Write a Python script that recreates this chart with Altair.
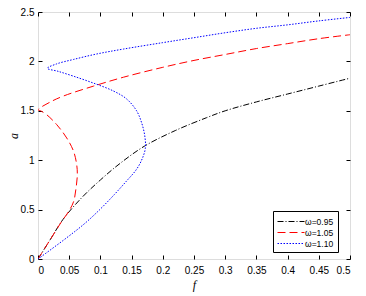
import altair as alt
import pandas as pd

series = ["ω=0.95", "ω=1.05", "ω=1.10"]
colors = ["#000000", "#ff0000", "#0000ff"]

f_095 = [0, 0.02, 0.04, 0.07, 0.1, 0.13, 0.17, 0.22, 0.27, 0.3, 0.35, 0.4, 0.45, 0.5]
a_095 = [0, 0.2, 0.4, 0.62, 0.8, 0.96, 1.14, 1.30, 1.43, 1.50, 1.59, 1.67, 1.75, 1.83]

f_105 = [0, 0.019, 0.038, 0.049, 0.057, 0.061, 0.063, 0.062, 0.057, 0.046, 0.030, 0.014, 0.004, 0,
         0.02, 0.041, 0.089, 0.137, 0.2, 0.25, 0.3, 0.35, 0.4, 0.45, 0.5]
a_105 = [0, 0.19, 0.38, 0.48, 0.58, 0.72, 0.85, 0.955, 1.09, 1.225, 1.36, 1.46, 1.50, 1.51,
         1.59, 1.65, 1.75, 1.84, 1.94, 2.01, 2.07, 2.13, 2.18, 2.23, 2.27]

f_110 = [0, 0.046, 0.075, 0.099, 0.122, 0.142, 0.157, 0.166, 0.172, 0.171, 0.166, 0.158,
         0.142, 0.121, 0.089, 0.057, 0.032, 0.015, 0.03, 0.057, 0.094, 0.137, 0.2, 0.25,
         0.3, 0.35, 0.4, 0.45, 0.5]
a_110 = [0, 0.215, 0.36, 0.5, 0.65, 0.79, 0.9, 1.0, 1.12, 1.25, 1.38, 1.5,
         1.62, 1.70, 1.78, 1.85, 1.90, 1.93, 1.975, 2.02, 2.075, 2.125, 2.19, 2.24,
         2.29, 2.335, 2.37, 2.41, 2.445]

x_ticks = [0, 0.05, 0.1, 0.15, 0.2, 0.25, 0.3, 0.35, 0.4, 0.45, 0.5]
y_ticks = [0, 0.5, 1, 1.5, 2, 2.5]

rows = []
for name, fs, avals in zip(series, [f_095, f_105, f_110], [a_095, a_105, a_110]):
    for i, (f, a) in enumerate(zip(fs, avals)):
        rows.append({"series": name, "f": f, "a": a, "i": i})
df = pd.DataFrame(rows)

W, H = 312, 247
xs = alt.Scale(domain=[0, 0.5], nice=False, zero=False)
ys = alt.Scale(domain=[0, 2.5], nice=False, zero=False)

leg = alt.Legend(
    title=None, orient="none", legendX=235, legendY=199,
    strokeColor="black", fillColor="white", padding=4, cornerRadius=0,
    symbolType="M-1,0L3.5,0", symbolSize=144,
    labelFont="Liberation Sans",
    labelFontSize=8.5, labelColor="black", rowPadding=0, labelOffset=15,
)

lab_expr = "format(datum.value, '~g')"

base = alt.Chart(df)

lines = base.mark_line(interpolate="catmull-rom", clip=True).encode(
    x=alt.X("f:Q", scale=xs, axis=alt.Axis(
        orient="bottom", values=x_ticks, ticks=False, domain=False, grid=False,
        labelExpr=lab_expr,
        labelPadding=6, labelFont="Liberation Sans", labelFontSize=10, labelColor="black",
        title="f", titleFont="Liberation Serif", titleFontStyle="italic", titleFontWeight="normal",
        titleFontSize=12, titleColor="black", titleBaseline="alphabetic", titleY=29)),
    y=alt.Y("a:Q", scale=ys, axis=alt.Axis(
        orient="left", values=y_ticks, ticks=False, domain=False, grid=False,
        labelExpr=lab_expr,
        labelPadding=4, labelFont="Liberation Sans", labelFontSize=10, labelColor="black",
        title="a", titleFont="Liberation Serif", titleFontStyle="italic", titleFontWeight="normal",
        titleFontSize=12, titleColor="black", titleBaseline="alphabetic",
        titleX=-21, titleY=H / 2)),
    color=alt.Color("series:N", scale=alt.Scale(domain=series, range=colors), legend=leg),
    strokeDash=alt.StrokeDash("series:N", scale=alt.Scale(
        domain=series, range=[[6, 2, 1, 2], [8, 4], [1.5, 1.5]]), legend=leg),
    strokeWidth=alt.StrokeWidth("series:N", scale=alt.Scale(
        domain=series, range=[1, 1, 1.6]), legend=leg),
    order="i:Q",
)

ticks_in1 = base.mark_line(opacity=0).encode(
    x=alt.X("f:Q", scale=xs, axis=alt.Axis(
        orient="top", offset=-H, values=x_ticks, labels=False, domain=False, grid=False,
        ticks=True, tickSize=4, tickColor="black", title=None)),
    y=alt.Y("a:Q", scale=ys, axis=alt.Axis(
        orient="right", offset=-W, values=y_ticks, labels=False, domain=False, grid=False,
        ticks=True, tickSize=4, tickColor="black", title=None)),
    detail="series:N", order="i:Q",
)

ticks_in2 = base.mark_line(opacity=0).encode(
    x=alt.X("f:Q", scale=xs, axis=alt.Axis(
        orient="bottom", offset=-H, values=x_ticks, labels=False, domain=False, grid=False,
        ticks=True, tickSize=4, tickColor="black", title=None)),
    y=alt.Y("a:Q", scale=ys, axis=alt.Axis(
        orient="left", offset=-W, values=y_ticks, labels=False, domain=False, grid=False,
        ticks=True, tickSize=4, tickColor="black", title=None)),
    detail="series:N", order="i:Q",
)

chart = alt.layer(lines, ticks_in1, ticks_in2).resolve_axis(
    x="independent", y="independent"
).properties(
    width=W, height=H,
    autosize=alt.AutoSizeParams(type="none"),
    padding={"left": 30, "top": 4, "right": 8, "bottom": 33},
).configure_view(stroke="black", strokeWidth=1).configure(background="white")

chart.save("out.html", embed_options={"renderer": "svg", "actions": False})
